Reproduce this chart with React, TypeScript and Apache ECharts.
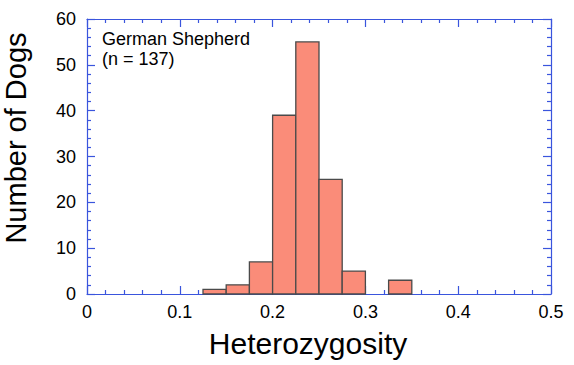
import React, { useEffect, useRef } from "react";
import * as echarts from "echarts";

const binStarts = [0.125, 0.15, 0.175, 0.2, 0.225, 0.25, 0.275, 0.325];
const binWidth = 0.025;
const counts = [1, 2, 7, 39, 55, 25, 5, 3];
const xTicks = [0, 0.1, 0.2, 0.3, 0.4, 0.5];
const yTicks = [0, 10, 20, 30, 40, 50, 60];
const annotation = ["German Shepherd", "(n = 137)"];
const xTitle = "Heterozygosity";
const yTitle = "Number of Dogs";

const AXIS_BLUE = "#3a55dd";
const FONT = "Liberation Sans, Arial, Helvetica, sans-serif";

export default function App() {
  const ref = useRef<HTMLDivElement>(null);
  useEffect(() => {
    if (!ref.current) return;
    const chart = echarts.init(ref.current, undefined, { renderer: "svg" });
    const data = binStarts.map((s, i) => [s, s + binWidth, counts[i]]);
    const axisLine = { show: true, onZero: false, lineStyle: { color: AXIS_BLUE, width: 1.2 } };
    const tick = { show: true, inside: true, length: 8, lineStyle: { color: AXIS_BLUE, width: 1.2 } };
    const minor = { show: true, splitNumber: 5, length: 4, lineStyle: { color: AXIS_BLUE, width: 1.2 } };
    const baseX = {
      type: "value" as const,
      min: 0,
      max: 0.5,
      interval: 0.1,
      axisLine,
      axisTick: tick,
      minorTick: minor,
      splitLine: { show: false },
    };
    const baseY = {
      type: "value" as const,
      min: 0,
      max: 60,
      interval: 10,
      axisLine,
      axisTick: tick,
      minorTick: minor,
      splitLine: { show: false },
    };
    chart.setOption({
      animation: false,
      grid: { left: 87, right: 23, top: 19, bottom: 71, containLabel: false },
      xAxis: [
        {
          ...baseX,
          position: "bottom",
          axisLabel: {
            show: true,
            color: "#000",
            fontSize: 18,
            fontFamily: FONT,
            margin: 9,
            formatter: (v: number) => (xTicks.includes(Math.round(v * 10) / 10) ? String(Math.round(v * 10) / 10) : ""),
          },
        },
        { ...baseX, position: "top", axisLabel: { show: false } },
      ],
      yAxis: [
        {
          ...baseY,
          position: "left",
          axisLabel: {
            show: true,
            color: "#000",
            fontSize: 18,
            fontFamily: FONT,
            margin: 11,
            formatter: (v: number) => (yTicks.includes(v) ? String(v) : ""),
          },
        },
        { ...baseY, position: "right", axisLabel: { show: false } },
      ],
      series: [
        {
          type: "custom",
          xAxisIndex: 0,
          yAxisIndex: 0,
          encode: { x: [0, 1], y: 2 },
          data,
          renderItem: (params: any, api: any) => {
            const p0 = api.coord([api.value(0), api.value(2)]);
            const p1 = api.coord([api.value(1), 0]);
            return {
              type: "rect",
              shape: { x: p0[0], y: p0[1], width: p1[0] - p0[0], height: p1[1] - p0[1] },
              style: { fill: "#fa8c79", stroke: "#4a4a4a", lineWidth: 1.3 },
            };
          },
        },
      ],
      graphic: [
        {
          type: "text",
          left: 102,
          top: 29,
          style: {
            text: annotation.join("\n"),
            font: `18px ${FONT}`,
            fill: "#000",
            lineHeight: 20,
          },
        },
        {
          type: "text",
          x: 308,
          y: 343,
          style: {
            text: xTitle,
            font: `30px ${FONT}`,
            fill: "#000",
            align: "center",
            verticalAlign: "middle",
          },
        },
        {
          type: "text",
          x: 16,
          y: 138,
          rotation: Math.PI / 2,
          style: {
            text: yTitle,
            font: `29px ${FONT}`,
            fill: "#000",
            align: "center",
            verticalAlign: "middle",
          },
        },
      ],
    });
    return () => chart.dispose();
  }, []);
  return (
    <div
      ref={ref}
      style={{ position: "fixed", left: 0, top: 0, width: 574, height: 365, background: "#fff" }}
    />
  );
}
